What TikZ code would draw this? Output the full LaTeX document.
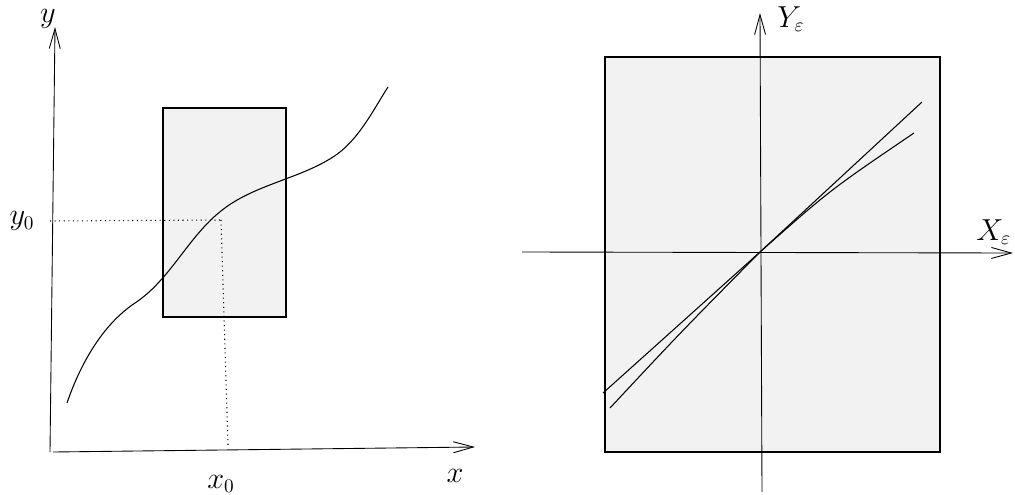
\documentclass[tikz,border=0pt]{standalone}
\usepackage{amsmath}
\usepackage{tikz}
\usetikzlibrary{arrows.meta}
\definecolor{boxgray}{RGB}{242,242,242}

\tikzset{
  axis/.style={line width=0.5pt, -{Straight Barb[length=4mm,width=2.2mm]}},
  lab/.style={font=\fontsize{16}{19}\selectfont, inner sep=0pt},
  guide/.style={dotted, line width=0.6pt},
  region/.style={draw, line width=0.6pt, fill=boxgray}
}

\begin{document}
\begin{tikzpicture}[x=0.02cm, y=-0.02cm]
    \useasboundingbox (0,0) rectangle (1015,494);

    % left picture
    \draw[region] (163,108) rectangle (286,317);
    \coordinate (o1) at (50,452);
    \coordinate (ytip) at (55,27);
    \coordinate (xstart) at (53,452);
    \coordinate (xtip) at (475,447);
    \draw[axis] (o1) -- (ytip);
    \draw[axis] (xstart) -- (xtip);

    \coordinate (p0) at (221,220);
    \draw[guide] (50,221) -- (p0);
    \draw[guide] (p0) -- (228,445);

    \draw[line width=0.6pt] (67,403) .. controls (80,365) and (102,325) .. (135,303)
      .. controls (170,280) and (188,237) .. (221,211)
      .. controls (253,185) and (299,179) .. (333,157)
      .. controls (358,141) and (372,112) .. (388,87);

    \node[lab] (ylab) at (48,19) {$y$};
    \node[lab] (xlab) at (455,476) {$x$};
    \node[lab] (x0lab) at (221,484) {$x_0$};
    \node[lab] (y0lab) at (22,221) {$y_0$};

    % right picture
    \draw[region] (605,57) rectangle (940,452);
    \coordinate (o2) at (760,252);
    \coordinate (vbot) at (762,492);
    \coordinate (vtip) at (760,13);
    \coordinate (hleft) at (522,252);
    \coordinate (htip) at (1013,253);
    \draw[axis] (vbot) -- (vtip);
    \draw[axis] (hleft) -- (htip);

    \draw[line width=0.6pt] (603,393) -- (o2) -- (922,102);
    \draw[line width=0.6pt] (610,408) .. controls (680,333) .. (o2)
      .. controls (830,190) .. (914,133);

    \node[lab, anchor=west] (Ylab) at (777,19) {$Y_\varepsilon$};
    \node[lab, anchor=west] (Xlab) at (976,232) {$X_\varepsilon$};
\end{tikzpicture}
\end{document}
